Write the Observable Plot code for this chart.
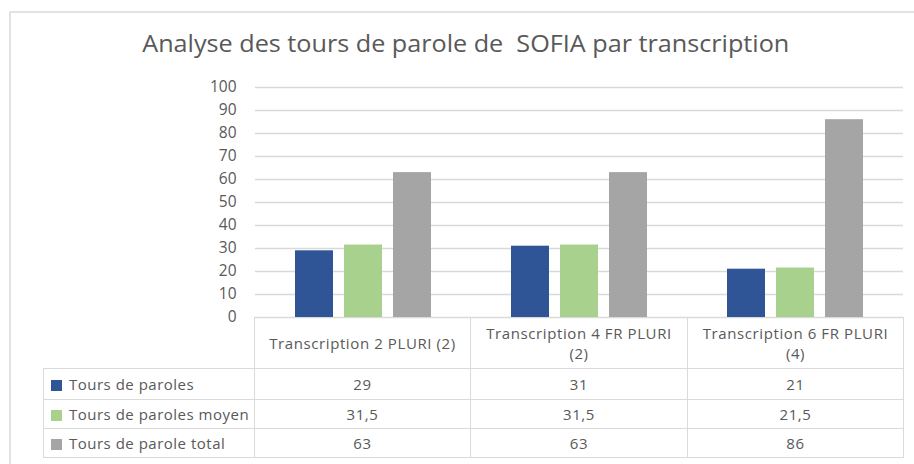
<!DOCTYPE html>
<html>
<head>
<meta charset="utf-8">
<script src="https://cdn.jsdelivr.net/npm/d3@7"></script>
<script src="https://cdn.jsdelivr.net/npm/@observablehq/plot@0.6"></script>
<style>
  html, body { margin: 0; padding: 0; background: #fff; }
  #wrap { position: relative; width: 914px; height: 464px; overflow: hidden; font-family: "Open Sans", sans-serif; color: #595959; }
  #frame { position: absolute; left: 9px; top: 11px; width: 1000px; height: 1000px; border-left: 2px solid #e2e2e2; border-top: 2px solid #e2e2e2; box-sizing: border-box; }
  #title { position: absolute; top: 26px; left: 0; width: 914px; text-align: center; white-space: pre; font-size: 24.5px; line-height: 34px; color: #595959; }
  #title span { display: inline-block; transform-origin: center; }
  #chart { position: absolute; left: 0; top: 0; }
  #table { position: absolute; left: 43px; top: 317px; border-collapse: collapse; table-layout: fixed; font-size: 15px; letter-spacing: 0.6px; color: #595959; }
  #table td { border: 1.5px solid #dadada; padding: 0; text-align: center; vertical-align: middle; }
  #table td.blank { border: none; border-right: 1.5px solid #dadada; }
  #table td.head { line-height: 20px; padding: 0 9px; }
  #table td.lab { text-align: left; padding-left: 7px; white-space: nowrap; letter-spacing: 0.5px; }
  .sw { display: inline-block; width: 11px; height: 11px; margin-right: 7px; vertical-align: -1px; }
</style>
</head>
<body>
<div id="wrap">
  <div id="frame"></div>
  <div id="chart"></div>
  <div id="title"><span id="titletext"></span></div>
  <table id="table"></table>
</div>
<script>
const titleText = "Analyse des tours de parole de  SOFIA par transcription";
const categories = ["Transcription 2 PLURI (2)", "Transcription 4 FR PLURI (2)", "Transcription 6 FR PLURI (4)"];
const series = ["Tours de paroles", "Tours de paroles moyen", "Tours de parole total"];
const toursDeParoles = [29, 31, 21];
const toursDeParolesMoyen = [31.5, 31.5, 21.5];
const toursDeParoleTotal = [63, 63, 86];
const colors = ["#2f5597", "#a9d18e", "#a5a5a5"];
const yTicks = [0, 10, 20, 30, 40, 50, 60, 70, 80, 90, 100];

const seriesValues = [toursDeParoles, toursDeParolesMoyen, toursDeParoleTotal];
const data = [];
categories.forEach((c, i) => series.forEach((s, j) => data.push({category: c, series: s, value: seriesValues[j][i]})));

const chart = Plot.plot({
  width: 914,
  height: 330,
  marginLeft: 254,
  marginRight: 11,
  marginTop: 87,
  marginBottom: 13,
  style: {fontFamily: "'Open Sans', sans-serif", fontSize: "15.5px", color: "#595959", background: "transparent"},
  fx: {domain: categories, padding: 0, axis: null},
  x: {domain: series, paddingInner: 0.22, paddingOuter: 0.773, axis: null},
  y: {domain: [0, 100], axis: null},
  color: {domain: series, range: colors},
  marks: [
    Plot.gridY(yTicks, {stroke: "#d9d9d9", strokeOpacity: 1, strokeWidth: 1.3}),
    Plot.axisY(yTicks, {label: null, tickSize: 0, tickPadding: 19, tickFormat: d => String(d), fontSize: 15.5, fill: "#595959"}),
    Plot.barY(data, {fx: "category", x: "series", y: "value", fill: "series"})
  ]
});
document.getElementById("chart").appendChild(chart);

// Title
const tt = document.getElementById("titletext");
tt.textContent = titleText;
const w = tt.getBoundingClientRect().width;
tt.style.transform = `translateX(9px) scaleX(${647 / w})`;

// Data table
const fmt = v => String(v).replace(".", ",");
const table = document.getElementById("table");
const colg = document.createElement("colgroup");
[211, 216, 217, 216].forEach(wd => { const col = document.createElement("col"); col.style.width = wd + "px"; colg.appendChild(col); });
table.appendChild(colg);
const hr = document.createElement("tr");
hr.style.height = "51px";
const blank = document.createElement("td"); blank.className = "blank"; hr.appendChild(blank);
categories.forEach(c => { const td = document.createElement("td"); td.className = "head"; td.textContent = c; hr.appendChild(td); });
table.appendChild(hr);
const rowH = [31, 29, 29];
series.forEach((s, j) => {
  const tr = document.createElement("tr");
  tr.style.height = rowH[j] + "px";
  const lab = document.createElement("td"); lab.className = "lab";
  const sw = document.createElement("span"); sw.className = "sw"; sw.style.background = colors[j];
  lab.appendChild(sw); lab.appendChild(document.createTextNode(s));
  tr.appendChild(lab);
  seriesValues[j].forEach(v => { const td = document.createElement("td"); td.textContent = fmt(v); tr.appendChild(td); });
  table.appendChild(tr);
});
</script>
</body>
</html>
